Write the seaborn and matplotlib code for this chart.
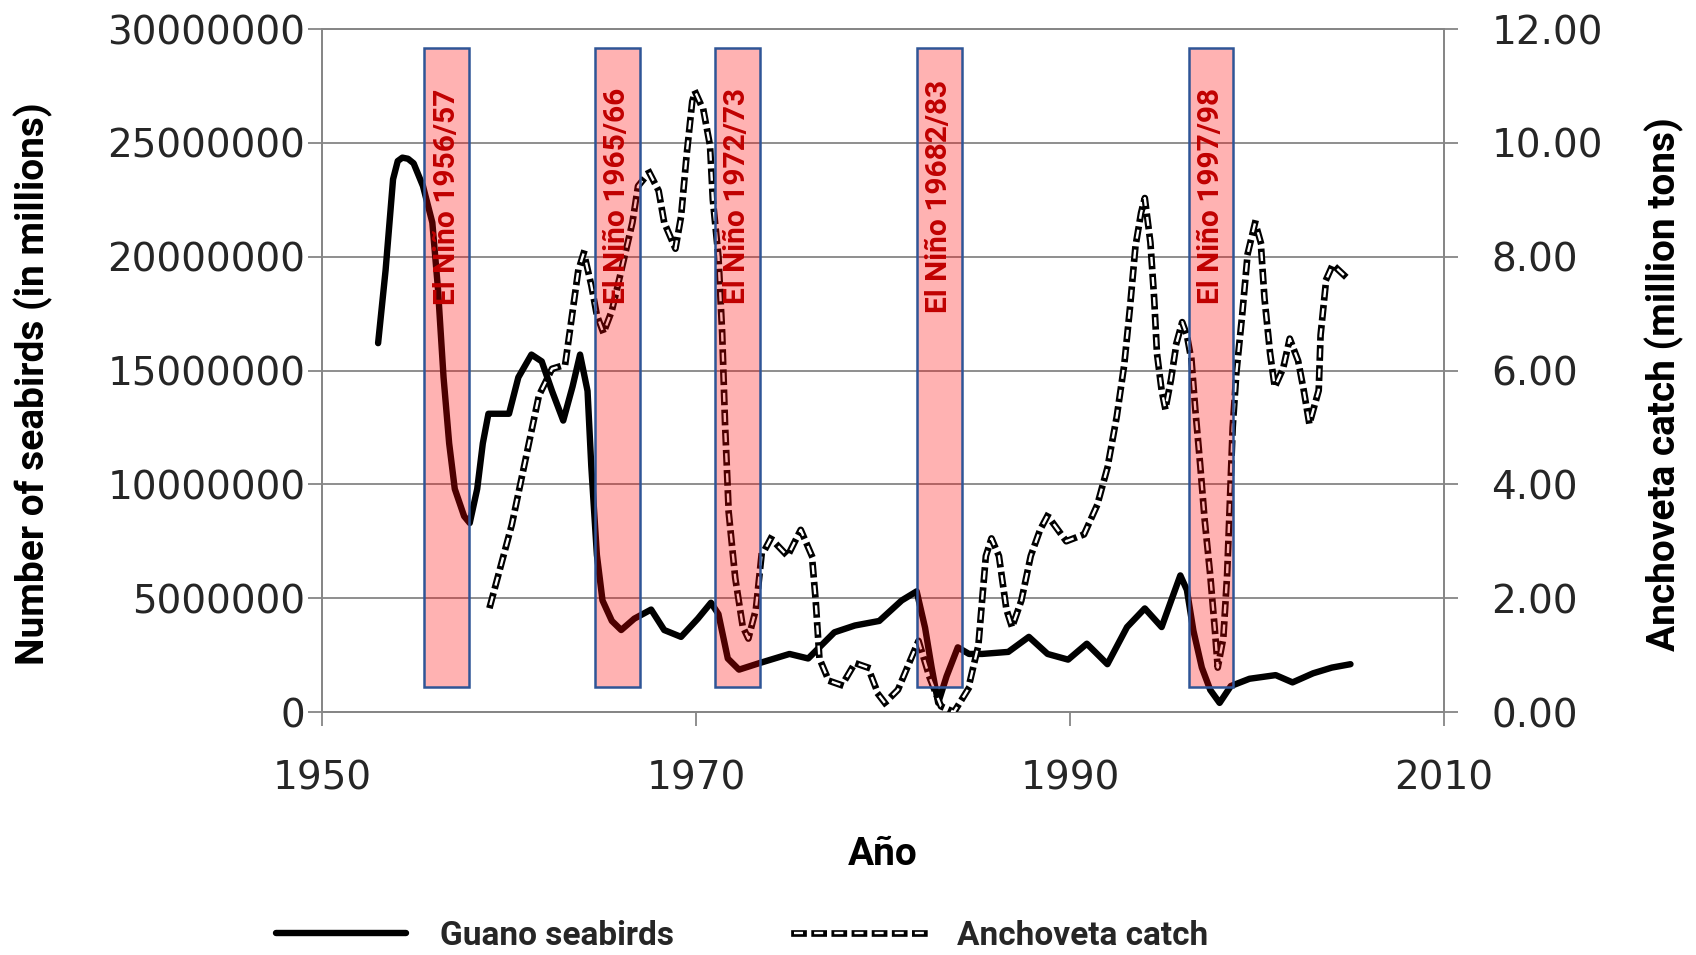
import numpy as np
import matplotlib
matplotlib.use("Agg")
import matplotlib.pyplot as plt
import matplotlib.patheffects as pe
import matplotlib.font_manager as fm
from matplotlib.ticker import FuncFormatter
import seaborn as sns

# ---------------- data ----------------
bird_years = [1953.0, 1953.4, 1953.8, 1954.05, 1954.3, 1954.6, 1954.9, 1955.4, 1955.9, 1956.2,
              1956.5, 1956.8, 1957.1, 1957.6, 1957.9, 1958.3, 1958.6, 1958.9, 1959.4, 1960.0,
              1960.5, 1961.2, 1961.75, 1962.3, 1962.9, 1963.4, 1963.8, 1964.2, 1964.4, 1964.7,
              1965.0, 1965.5, 1966.0, 1966.7, 1967.6, 1968.3, 1969.2, 1970.1, 1970.8, 1971.2,
              1971.7, 1972.3, 1973.4, 1975.0, 1976.0, 1977.4, 1978.5, 1979.8, 1981.0, 1981.8,
              1982.25, 1982.6, 1982.95, 1983.4, 1984.0, 1984.6, 1985.3, 1986.7, 1987.8, 1988.8,
              1989.9, 1990.9, 1992.0, 1993.05, 1994.0, 1994.9, 1995.4, 1995.9, 1996.25, 1996.6,
              1997.05, 1997.5, 1998.0, 1998.6, 1999.6, 2001.0, 2001.9, 2003.0, 2004.0, 2005.0]
bird_millions = [16.2, 19.4, 23.4, 24.2, 24.35, 24.3, 24.1, 23.1, 21.5, 18.6,
                 14.7, 11.8, 9.8, 8.6, 8.3, 9.8, 11.8, 13.1, 13.1, 13.1,
                 14.7, 15.7, 15.4, 14.1, 12.8, 14.3, 15.7, 14.1, 10.8, 6.9,
                 4.9, 4.0, 3.6, 4.1, 4.5, 3.6, 3.3, 4.1, 4.8, 4.3,
                 2.35, 1.86, 2.15, 2.55, 2.35, 3.5, 3.8, 4.0, 4.9, 5.3,
                 3.7, 1.96, 0.4, 1.57, 2.84, 2.55, 2.55, 2.64, 3.3, 2.55,
                 2.3, 3.0, 2.1, 3.73, 4.55, 3.73, 4.87, 6.0, 5.36, 3.57,
                 1.95, 0.97, 0.4, 1.14, 1.46, 1.62, 1.3, 1.7, 1.95, 2.1]

catch_years = [1959.0, 1960.15, 1961.0, 1961.6, 1962.3, 1963.0, 1963.3, 1963.7, 1964.0, 1964.4,
               1964.7, 1965.05, 1965.5, 1966.0, 1966.6, 1966.9, 1967.5, 1968.0, 1968.3, 1968.9,
               1969.2, 1969.5, 1969.8, 1969.95, 1970.4, 1970.75, 1970.9, 1971.2, 1971.4, 1971.55,
               1971.75, 1972.1, 1972.5, 1972.8, 1973.2, 1973.5, 1974.0, 1974.9, 1975.6, 1976.2,
               1976.4, 1976.6, 1977.1, 1977.8, 1978.5, 1979.2, 1979.75, 1980.1, 1980.8, 1981.5,
               1981.9, 1982.5, 1983.1, 1983.8, 1984.55, 1985.1, 1985.3, 1985.5, 1985.8, 1986.2,
               1986.6, 1986.9, 1987.4, 1987.9, 1988.4, 1988.8, 1989.8, 1990.75, 1991.46, 1992.0,
               1992.5, 1992.9, 1993.2, 1993.5, 1993.8, 1994.0, 1994.3, 1994.5, 1994.65, 1994.9,
               1995.1, 1995.4, 1995.7, 1996.0, 1996.25, 1996.5, 1996.7, 1996.96, 1997.2, 1997.5,
               1997.75, 1997.9, 1998.2, 1998.4, 1998.55, 1998.7, 1998.9, 1999.2, 1999.5, 1999.9,
               2000.2, 2000.4, 2000.7, 2000.95, 2001.4, 2001.75, 2002.2, 2002.5, 2002.8, 2003.3,
               2003.4, 2003.7, 2004.05, 2004.8]
catch_mt = [1.88, 3.29, 4.62, 5.56, 6.03, 6.1, 6.8, 7.75, 8.07, 7.5,
            6.97, 6.66, 7.05, 7.75, 8.6, 9.24, 9.48, 9.16, 8.6, 8.14,
            8.7, 9.79, 10.73, 10.9, 10.57, 9.95, 9.0, 8.0, 6.66, 5.09,
            3.5, 2.35, 1.5, 1.29, 1.8, 2.74, 3.05, 2.74, 3.2, 2.74,
            1.96, 0.94, 0.55, 0.47, 0.86, 0.78, 0.31, 0.16, 0.39, 0.94,
            1.25, 0.6, 0.1, 0.0, 0.4, 1.17, 1.96, 2.74, 3.05, 2.74,
            1.8, 1.49, 1.96, 2.74, 3.2, 3.45, 3.0, 3.12, 3.64, 4.29,
            5.19, 6.1, 7.08, 8.18, 8.77, 9.03, 8.25, 7.27, 6.3, 5.65,
            5.32, 5.84, 6.49, 6.85, 6.62, 6.17, 5.32, 4.35, 3.38, 2.4,
            1.43, 0.78, 1.3, 2.4, 3.7, 5.0, 5.97, 6.95, 8.05, 8.6,
            8.25, 7.27, 6.3, 5.71, 6.04, 6.56, 6.17, 5.65, 5.06, 5.65,
            6.62, 7.6, 7.86, 7.63]

nino_start = [1955.47, 1964.6, 1971.0, 1981.8, 1996.37]
nino_end = [1957.87, 1967.0, 1973.4, 1984.2, 1998.73]
nino_labels = ["El Niño 1956/57", "El Niño 1965/66", "El Niño 1972/73",
               "El Niño 19682/83", "El Niño 1997/98"]

x_ticks = [1950, 1970, 1990, 2010]
left_ticks = [0, 5000000, 10000000, 15000000, 20000000, 25000000, 30000000]
right_ticks = [0, 2, 4, 6, 8, 10, 12]
series_labels = ["Guano seabirds", "Anchoveta catch"]

# ---------------- style ----------------
sns.set_style("white")
plt.rcParams["lines.scale_dashes"] = False
plt.rcParams["font.family"] = ["DejaVu Sans"]
names = {f.name for f in fm.fontManager.ttflist}
NARROW = "Liberation Sans Narrow" if "Liberation Sans Narrow" in names else "Roboto"

GRID = "#868686"
fig = plt.figure(figsize=(16.96, 9.55), dpi=100)
ax = fig.add_axes([322 / 1696, 1 - 712 / 955, 1122 / 1696, 683 / 955])
ax2 = ax.twinx()

bird_counts = np.array(bird_millions) * 1e6
sns.lineplot(x=bird_years, y=bird_counts, ax=ax, color="black", linewidth=4.6,
             legend=False, solid_capstyle="round", solid_joinstyle="round", zorder=3)
sns.lineplot(x=catch_years, y=catch_mt, ax=ax2, color="black", legend=False, zorder=3)
dl = ax2.lines[-1]
dl.set_linewidth(4.5)
dl.set_linestyle((0, (6.5, 8.0)))
dl.set_path_effects([
    pe.Stroke(linewidth=4.8, foreground="black", capstyle="projecting"),
    pe.Stroke(linewidth=1.7, foreground="white", capstyle="butt"),
])

ax.set_xlim(1950, 2010)
ax.set_ylim(0, 30000000)
ax2.set_ylim(0, 12)
ax.set_xticks(x_ticks)
ax.set_yticks(left_ticks)
ax2.set_yticks(right_ticks)
ax.yaxis.set_major_formatter(FuncFormatter(lambda v, p: f"{int(round(v))}"))
ax2.yaxis.set_major_formatter(FuncFormatter(lambda v, p: f"{v:.2f}"))

ax.grid(axis="y", color=GRID, linewidth=1.3)
ax.grid(axis="x", visible=False)
ax.set_axisbelow(True)
for a in (ax, ax2):
    for s in a.spines.values():
        s.set_color(GRID)
        s.set_linewidth(1.3)

ax.tick_params(axis="y", direction="out", length=10, width=1.3, color=GRID,
               labelsize=28, pad=2, labelcolor="#262626", left=True)
ax.tick_params(axis="x", direction="out", length=10, width=1.3, color=GRID,
               labelsize=28, pad=24, labelcolor="#262626", bottom=True)
ax2.tick_params(axis="y", direction="out", length=10, width=1.3, color=GRID,
                labelsize=28, pad=24, labelcolor="#262626", right=True)

lab_font = dict(family=NARROW, fontweight="bold", fontsize=28, color="black")
ax.set_ylabel("Number of seabirds (in millions)", **lab_font)
ax.yaxis.set_label_coords(-0.257, 0.48)
ax.yaxis.label.set_va("center")
ax2.set_ylabel("Anchoveta catch (million tons)", **lab_font)
ax2.yaxis.set_label_coords(1.196, 0.48)
ax2.yaxis.label.set_va("center")
ax.set_xlabel("Año", **lab_font)
ax.xaxis.set_label_coords(0.5, -0.209)
ax.xaxis.label.set_va("center")

for s, e, lab in zip(nino_start, nino_end, nino_labels):
    ax2.axvspan(s, e, ymin=0.0372, ymax=0.9726, facecolor=(1, 0, 0, 0.3),
                edgecolor="#2F5597", linewidth=1.8, zorder=5)
    ax2.text((s + e) / 2, 0.755, lab, transform=ax2.get_xaxis_transform(),
             rotation=90, ha="center", va="center", color="#C00000",
             fontsize=21.5, fontweight="bold", family=NARROW, zorder=6)

handles = [ax.lines[0], ax2.lines[0]]
fig.legend(handles, series_labels, loc="center", bbox_to_anchor=(0.4377, 0.02),
           ncol=2, frameon=False,
           prop=dict(family=NARROW, weight="bold", size=24),
           handlelength=3.9, handletextpad=1.0, columnspacing=3.6)

fig.savefig("out.png", dpi=100)
